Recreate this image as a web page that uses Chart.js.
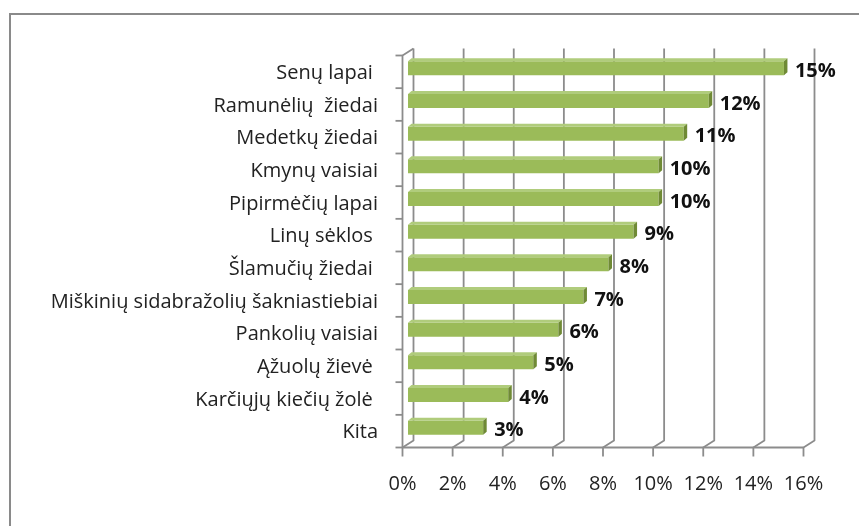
<!DOCTYPE html>
<html>
<head>
<meta charset="utf-8">
<script src="https://cdn.jsdelivr.net/npm/chart.js@4.4.1/dist/chart.umd.min.js"></script>
<style>
    html, body { margin: 0; padding: 0; background: #fff; }
    #wrap { width: 859px; height: 526px; }
</style>
</head>
<body>
<div id="wrap"><canvas id="chart" width="859" height="526"></canvas></div>
<script>
let kategorijos = [
    "Senų lapai ", "Ramunėlių  žiedai", "Medetkų žiedai", "Kmynų vaisiai",
    "Pipirmėčių lapai", "Linų sėklos ", "Šlamučių žiedai ",
    "Miškinių sidabražolių šakniastiebiai", "Pankolių vaisiai", "Ąžuolų žievė ",
    "Karčiųjų kiečių žolė ", "Kita"
];
let reiksmes = [15, 12, 11, 10, 10, 9, 8, 7, 6, 5, 4, 3];
let xTicks = [0, 2, 4, 6, 8, 10, 12, 14, 16];

let depthX = 5.5;   // half of the wall depth, horizontal
let depthY = 3.5;   // half of the wall depth, vertical
let lineColor = "#8c8c8c";
let fontFamily = "'Open Sans', Lato, sans-serif";

let walls3d = {
    id: 'walls3d',
    beforeDatasetsDraw: function (chart) {
        /*
            Rahmen, Rückwand-Gitterlinien, Boden und linke Achse im 3D-Stil.
         */
        let ctx = chart.ctx;
        let area = chart.chartArea;
        let x = chart.scales.x;
        ctx.save();

        // chart border (top and left only)
        ctx.strokeStyle = "#8a8a8a";
        ctx.lineWidth = 2;
        ctx.beginPath();
        ctx.moveTo(10, 526);
        ctx.lineTo(10, 14);
        ctx.lineTo(859, 14);
        ctx.stroke();

        ctx.strokeStyle = lineColor;
        ctx.lineWidth = 1.8;
        ctx.lineJoin = 'round';

        for (let i = 0; i < xTicks.length; i++) {
            let px = x.getPixelForValue(xTicks[i]);
            ctx.beginPath();
            ctx.moveTo(px + depthX, area.top - depthY);
            ctx.lineTo(px + depthX, area.bottom - depthY);
            ctx.lineTo(px - depthX, area.bottom + depthY);
            ctx.lineTo(px - depthX, area.bottom + depthY + 9);
            ctx.stroke();
        }

        let x0 = x.getPixelForValue(0) - depthX;
        let x1 = x.getPixelForValue(16) - depthX;

        // floor front line
        ctx.beginPath();
        ctx.moveTo(x0, area.bottom + depthY);
        ctx.lineTo(x1, area.bottom + depthY);
        ctx.stroke();

        // left wall front line
        ctx.beginPath();
        ctx.moveTo(x0 + 2 * depthX, area.top - depthY);
        ctx.lineTo(x0, area.top + depthY);
        ctx.lineTo(x0, area.bottom + depthY);
        ctx.stroke();

        // category ticks
        let step = (area.bottom - area.top) / kategorijos.length;
        for (let i = 0; i <= kategorijos.length; i++) {
            let py = area.top + depthY + i * step;
            ctx.beginPath();
            ctx.moveTo(x0 - 7, py);
            ctx.lineTo(x0, py);
            ctx.stroke();
        }

        ctx.restore();
    },
    afterDatasetsDraw: function (chart) {
        /*
            Ober- und Seitenfläche der Balken, danach die Datenbeschriftung.
         */
        let ctx = chart.ctx;
        let meta = chart.getDatasetMeta(0);
        let d = 3.5;
        let dd = 3;
        ctx.save();

        for (let i = 0; i < meta.data.length; i++) {
            let el = meta.data[i];
            let top = el.y - el.height / 2;
            let bottom = el.y + el.height / 2;

            ctx.fillStyle = "#b0cc7c";
            ctx.beginPath();
            ctx.moveTo(el.base, top);
            ctx.lineTo(el.base + d, top - dd);
            ctx.lineTo(el.x + d, top - dd);
            ctx.lineTo(el.x, top);
            ctx.closePath();
            ctx.fill();

            ctx.fillStyle = "#6f8a35";
            ctx.beginPath();
            ctx.moveTo(el.x, top);
            ctx.lineTo(el.x + d, top - dd);
            ctx.lineTo(el.x + d, bottom - dd);
            ctx.lineTo(el.x, bottom);
            ctx.closePath();
            ctx.fill();

            ctx.fillStyle = "#111";
            ctx.font = "bold 20px " + fontFamily;
            ctx.textAlign = 'left';
            ctx.textBaseline = 'middle';
            ctx.fillText(reiksmes[i] + "%", el.x + 11, el.y + 3);
        }

        ctx.restore();
    }
};

let ctx = document.getElementById('chart').getContext('2d');

let chart = new Chart(ctx, {
    type: 'bar',
    data: {
        labels: kategorijos,
        datasets: [{
            data: reiksmes,
            backgroundColor: function (context) {
                let el = context.element;
                if (!el || el.y === undefined) return "#9bbb59";
                let g = context.chart.ctx.createLinearGradient(0, el.y - 7, 0, el.y + 7);
                g.addColorStop(0, "#a9c86c");
                g.addColorStop(0.6, "#9bbb59");
                g.addColorStop(1, "#86a548");
                return g;
            },
            borderWidth: 0,
            barPercentage: 0.43,
            categoryPercentage: 1.0
        }]
    },
    options: {
        indexAxis: 'y',
        responsive: false,
        animation: false,
        layout: {
            padding: {left: 0, top: 52, right: 50, bottom: 0}
        },
        plugins: {
            legend: {display: false},
            tooltip: {enabled: false}
        },
        scales: {
            x: {
                min: 0,
                max: 16,
                afterBuildTicks: function (scale) {
                    scale.ticks = xTicks.map(function (v) { return {value: v}; });
                },
                afterFit: function (scale) {
                    scale.height = 82;
                },
                grid: {display: false, drawTicks: false},
                border: {display: false},
                ticks: {
                    callback: function (v) { return v + "%"; },
                    labelOffset: -5.5,
                    padding: 28,
                    color: "#222",
                    font: {family: fontFamily, size: 20}
                }
            },
            y: {
                afterFit: function (scale) {
                    scale.width = 408;
                },
                grid: {display: false, drawTicks: false},
                border: {display: false},
                ticks: {
                    padding: 30,
                    labelOffset: 5,
                    color: "#222",
                    font: {family: fontFamily, size: 20}
                }
            }
        }
    },
    plugins: [walls3d]
});
</script>
</body>
</html>
